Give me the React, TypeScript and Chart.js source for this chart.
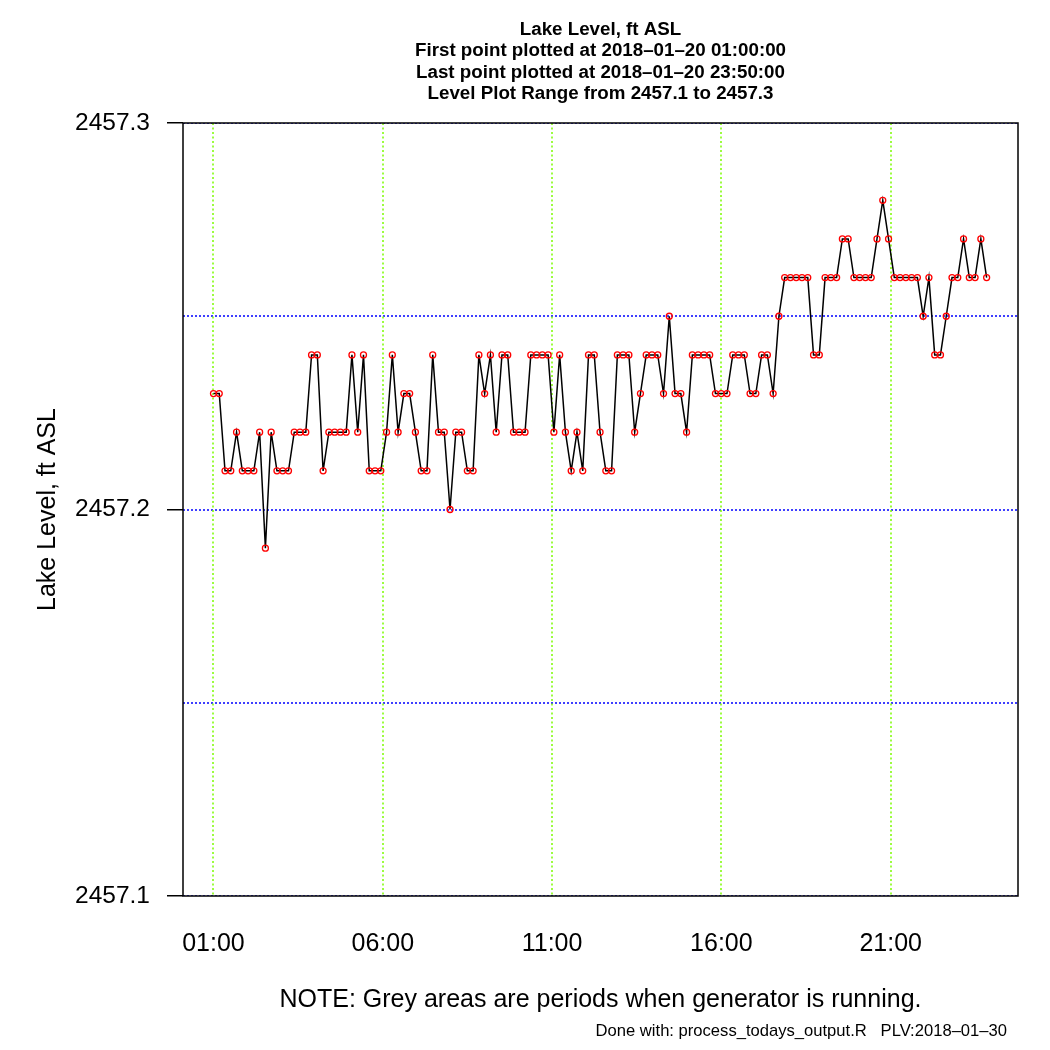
import React, { useEffect, useRef } from "react";
import { Chart, registerables } from "chart.js";

Chart.register(...registerables);

const TITLE_LINES = [
  "Lake Level, ft ASL",
  "First point plotted at 2018–01–20 01:00:00",
  "Last point plotted at 2018–01–20 23:50:00",
  "Level Plot Range from 2457.1 to 2457.3",
];
const Y_TITLE = "Lake Level, ft ASL";
const NOTE = "NOTE: Grey areas are periods when generator is running.";
const FOOTER = "Done with: process_todays_output.R   PLV:2018–01–30";

// Lake level readings, ft ASL, in time order
const LEVELS = [
  2457.23, 2457.23, 2457.21, 2457.21, 2457.22, 2457.21, 2457.21, 2457.21, 2457.22, 2457.19,
  2457.22, 2457.21, 2457.21, 2457.21, 2457.22, 2457.22, 2457.22, 2457.24, 2457.24, 2457.21,
  2457.22, 2457.22, 2457.22, 2457.22, 2457.24, 2457.22, 2457.24, 2457.21, 2457.21, 2457.21,
  2457.22, 2457.24, 2457.22, 2457.23, 2457.23, 2457.22, 2457.21, 2457.21, 2457.24, 2457.22,
  2457.22, 2457.20, 2457.22, 2457.22, 2457.21, 2457.21, 2457.24, 2457.23, 2457.24, 2457.22,
  2457.24, 2457.24, 2457.22, 2457.22, 2457.22, 2457.24, 2457.24, 2457.24, 2457.24, 2457.22,
  2457.24, 2457.22, 2457.21, 2457.22, 2457.21, 2457.24, 2457.24, 2457.22, 2457.21, 2457.21,
  2457.24, 2457.24, 2457.24, 2457.22, 2457.23, 2457.24, 2457.24, 2457.24, 2457.23, 2457.25,
  2457.23, 2457.23, 2457.22, 2457.24, 2457.24, 2457.24, 2457.24, 2457.23, 2457.23, 2457.23,
  2457.24, 2457.24, 2457.24, 2457.23, 2457.23, 2457.24, 2457.24, 2457.23, 2457.25, 2457.26,
  2457.26, 2457.26, 2457.26, 2457.26, 2457.24, 2457.24, 2457.26, 2457.26, 2457.26, 2457.27,
  2457.27, 2457.26, 2457.26, 2457.26, 2457.26, 2457.27, 2457.28, 2457.27, 2457.26, 2457.26,
  2457.26, 2457.26, 2457.26, 2457.25, 2457.26, 2457.24, 2457.24, 2457.25, 2457.26, 2457.26,
  2457.27, 2457.26, 2457.26, 2457.27, 2457.26,
];

// first and last sample times (hours of the day)
const FIRST_HOUR = 1;
const LAST_HOUR = 23 + 50 / 60;

const X_TICKS = [1, 6, 11, 16, 21];
const X_TICK_LABELS = ["01:00", "06:00", "11:00", "16:00", "21:00"];
const Y_TICKS = [2457.1, 2457.2, 2457.3];
const Y_GRID = [2457.1, 2457.15, 2457.2, 2457.25, 2457.3];
const X_MIN = 0.1;
const X_MAX = 24.76;
const Y_MIN = 2457.1;
const Y_MAX = 2457.3;

const FONT = "'Liberation Sans', Arial, Helvetica, sans-serif";

const decorPlugin = {
  id: "decor",
  beforeDatasetsDraw(chart: any) {
    const { ctx, chartArea, scales } = chart;
    const { left, right, top, bottom } = chartArea;
    ctx.save();
    ctx.beginPath();
    ctx.rect(left, top, right - left, bottom - top);
    ctx.clip();
    // blue dotted horizontal reference lines
    ctx.strokeStyle = "#0000ff";
    ctx.lineWidth = 1.5;
    ctx.setLineDash([2, 2]);
    Y_GRID.forEach((v) => {
      const y = Math.round(scales.y.getPixelForValue(v));
      ctx.beginPath();
      ctx.moveTo(left, y);
      ctx.lineTo(right, y);
      ctx.stroke();
    });
    // green dotted vertical lines at hour ticks
    ctx.strokeStyle = "#7cfc00";
    ctx.lineWidth = 1.5;
    ctx.setLineDash([2, 2.5]);
    X_TICKS.forEach((v) => {
      const x = Math.round(scales.x.getPixelForValue(v));
      ctx.beginPath();
      ctx.moveTo(x, top);
      ctx.lineTo(x, bottom);
      ctx.stroke();
    });
    ctx.restore();
  },
  afterDatasetsDraw(chart: any) {
    const { ctx, chartArea } = chart;
    const { left, right, top, bottom } = chartArea;
    ctx.save();
    ctx.strokeStyle = "#000";
    ctx.lineWidth = 1.5;
    ctx.setLineDash([]);
    ctx.strokeRect(left, top, right - left, bottom - top);
    ctx.restore();
  },
  afterDraw(chart: any) {
    const { ctx, chartArea } = chart;
    const cx = (chartArea.left + chartArea.right) / 2;
    const cy = (chartArea.top + chartArea.bottom) / 2;
    ctx.save();
    ctx.fillStyle = "#000";
    ctx.textAlign = "center";
    ctx.textBaseline = "middle";
    ctx.font = `bold 18.75px ${FONT}`;
    TITLE_LINES.forEach((t, i) => {
      ctx.fillText(t, cx, 30 + i * 21.2);
    });
    ctx.font = `25px ${FONT}`;
    ctx.save();
    ctx.translate(48, cy);
    ctx.rotate(-Math.PI / 2);
    ctx.fillText(Y_TITLE, 0, 0);
    ctx.restore();
    ctx.fillText(NOTE, cx, 1000);
    ctx.font = `16.6px ${FONT}`;
    ctx.textAlign = "right";
    ctx.fillText(FOOTER, 1007, 1031);
    ctx.restore();
  },
};

export default function App() {
  const canvasRef = useRef<HTMLCanvasElement | null>(null);

  useEffect(() => {
    const canvas = canvasRef.current;
    if (!canvas) return;
    const n = LEVELS.length;
    const step = (LAST_HOUR - FIRST_HOUR) / (n - 1);
    const points = LEVELS.map((v, i) => ({ x: FIRST_HOUR + i * step, y: v }));

    const chart = new Chart(canvas, {
      type: "line",
      data: {
        datasets: [
          {
            data: points,
            borderColor: "#000",
            borderWidth: 1.5,
            pointRadius: 3,
            pointBorderWidth: 1.3,
            pointBorderColor: "#ff0000",
            pointBackgroundColor: "rgba(0,0,0,0)",
            tension: 0,
            fill: false,
          },
        ],
      },
      options: {
        animation: false,
        responsive: false,
        maintainAspectRatio: false,
        devicePixelRatio: 1,
        layout: { padding: { top: 123, right: 32, left: 0, bottom: 0 } },
        plugins: {
          legend: { display: false },
          title: { display: false },
          tooltip: { enabled: false },
        },
        scales: {
          x: {
            type: "linear",
            min: X_MIN,
            max: X_MAX,
            afterBuildTicks: (s: any) => {
              s.ticks = X_TICKS.map((v) => ({ value: v }));
            },
            afterFit: (s: any) => {
              s.height = 154;
            },
            grid: { display: false, drawTicks: false },
            border: { display: false },
            ticks: {
              autoSkip: false,
              maxRotation: 0,
              padding: 33,
              color: "#000",
              font: { family: FONT, size: 25 },
              callback: (_v: any, i: number) => X_TICK_LABELS[i],
            },
          },
          y: {
            type: "linear",
            min: Y_MIN,
            max: Y_MAX,
            afterBuildTicks: (s: any) => {
              s.ticks = Y_TICKS.map((v) => ({ value: v }));
            },
            afterFit: (s: any) => {
              s.width = 183;
            },
            grid: {
              drawOnChartArea: false,
              drawTicks: true,
              tickLength: 16,
              color: "#000",
              lineWidth: 1.5,
            },
            border: { display: false },
            ticks: {
              padding: 17,
              color: "#000",
              font: { family: FONT, size: 24.5 },
              callback: (v: any) => Number(v).toFixed(1),
            },
          },
        },
      },
      plugins: [decorPlugin],
    } as any);

    return () => chart.destroy();
  }, []);

  return (
    <div style={{ position: "absolute", left: 0, top: 0, width: 1050, height: 1050, background: "#fff" }}>
      <canvas ref={canvasRef} width={1050} height={1050} style={{ display: "block" }} />
    </div>
  );
}
